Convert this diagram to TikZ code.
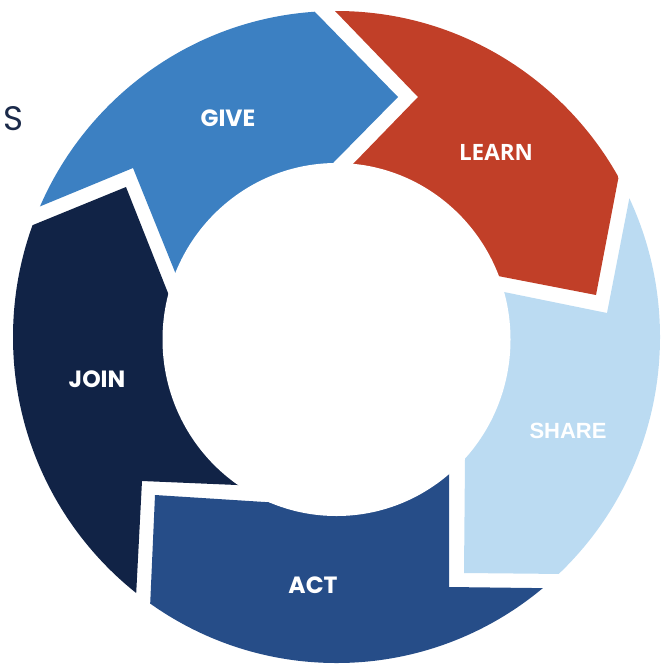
\documentclass[tikz,border=0pt]{standalone}
\usepackage{fontspec}
\setmainfont{Poppins}
\newfontfamily\learnfont{Open Sans}
\newfontfamily\sharefont{Liberation Sans}
\definecolor{cgive}{HTML}{3C80C2}
\definecolor{clearn}{HTML}{C13F28}
\definecolor{cshare}{HTML}{BBDBF2}
\definecolor{cact}{HTML}{264D88}
\definecolor{cjoin}{HTML}{112346}
\definecolor{cstext}{HTML}{1B2A4A}
\begin{document}
\begin{tikzpicture}[x=1pt,y=-1pt,
  lbl/.style={text=white,inner sep=0pt,font=\bfseries\fontsize{23.5}{28}\selectfont},
  side/.style={text=cstext,inner sep=0pt,font=\fontsize{34}{40}\selectfont}]
\useasboundingbox (0,0) rectangle (668,664);
\begin{scope}
  \clip (336.5,337) ellipse [x radius=323.5pt, y radius=326pt];
  % GIVE
  \fill[cgive] (-51,244) -- (-60,-80) -- (232,-73) -- (398,97) -- (268,229)
     -- (200,334) -- (133,168) -- cycle;
  % LEARN
  \fill[clearn] (252,-75) -- (418,97) -- (288,231) -- (449,266.5) -- (596,295)
     -- (640,65) -- (700,-80) -- cycle;
  % SHARE
  \fill[cshare] (651,87) -- (607,313) -- (452.5,281.5) -- (465.3,425) -- (464,573)
     -- (666,575) -- (760,330) -- cycle;
  % ACT
  \fill[cact] (155,495) -- (320,505.5) -- (449,420) -- (449,587) -- (700,590)
     -- (700,800) -- (142.5,777.5) -- cycle;
  % JOIN
  \fill[cjoin] (126,187) -- (193.2,356.6) -- (294,487.4) -- (142,481) -- (130,713)
     -- (-80,500) -- (-60,263) -- cycle;
\end{scope}
\fill[white] (336.5,339.5) ellipse [x radius=174pt, y radius=176.5pt];
\node[lbl] (give) at (228,118) {GIVE};
\node[lbl,font=\learnfont\bfseries\fontsize{22.5}{27}\selectfont] (learn) at (496,152) {LEARN};
\node[lbl,font=\sharefont\bfseries\fontsize{22}{27}\selectfont] (share) at (568,431) {SHARE};
\node[lbl] (act) at (313,585) {ACT};
\node[lbl] (join) at (97,379) {JOIN};
\node[side] (s) at (13,118.5) {S};
\end{tikzpicture}
\end{document}
